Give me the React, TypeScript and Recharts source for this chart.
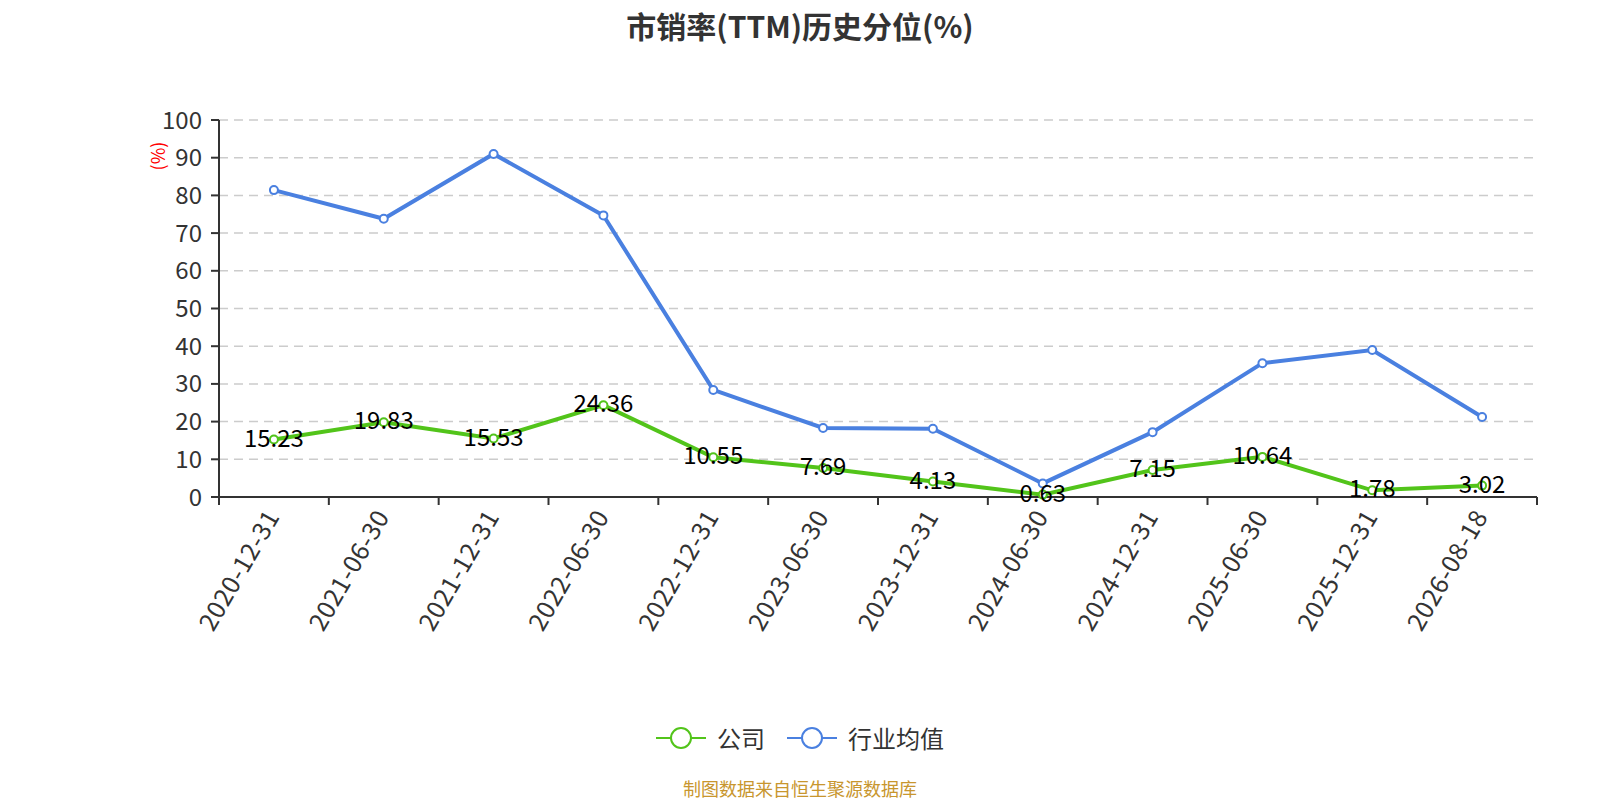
import { LineChart, Line, XAxis, YAxis, CartesianGrid, LabelList } from "recharts";

const dates = [
    "2020-12-31",
    "2021-06-30",
    "2021-12-31",
    "2022-06-30",
    "2022-12-31",
    "2023-06-30",
    "2023-12-31",
    "2024-06-30",
    "2024-12-31",
    "2025-06-30",
    "2025-12-31",
    "2026-08-18",
];
const company = [15.23, 19.83, 15.53, 24.36, 10.55, 7.69, 4.13, 0.63, 7.15, 10.64, 1.78, 3.02];
const industry = [81.4, 73.8, 91.0, 74.7, 28.4, 18.3, 18.1, 3.6, 17.2, 35.5, 39.0, 21.2];
const yTicks = [0, 10, 20, 30, 40, 50, 60, 70, 80, 90, 100];

const data = dates.map((d, i) => ({ date: d, company: company[i], industry: industry[i] }));

const FONT = "'Microsoft YaHei', 'Noto Sans CJK SC', 'Open Sans', sans-serif";
const GREEN = "#52c41a";
const BLUE = "#4a80e0";
const BAND = (1537 - 219) / dates.length;

const XTick = (props: any) => {
    const { x, y, payload, index } = props;
    return (
        <g>
            <line x1={x - BAND / 2} y1={y} x2={x - BAND / 2} y2={y + 8} stroke="#333" strokeWidth={2} />
            {index === dates.length - 1 && (
                <line x1={x + BAND / 2} y1={y} x2={x + BAND / 2} y2={y + 8} stroke="#333" strokeWidth={2} />
            )}
            <text
                transform={`translate(${x - 1},${y + 15}) rotate(-60)`}
                textAnchor="end"
                dy="0.35em"
                fontSize={25}
                letterSpacing={0.6}
                fill="#333"
                fontFamily={FONT}
            >
                {payload.value}
            </text>
        </g>
    );
};

const ValueLabel = (props: any) => {
    const { x, y, value } = props;
    return (
        <text x={x} y={y} dy="0.3em" textAnchor="middle" fontSize={24} fill="#000" fontFamily={FONT}>
            {value}
        </text>
    );
};

const LegendIcon = ({ color }: { color: string }) => (
    <svg width={50} height={24}>
        <line x1={0} y1={12} x2={50} y2={12} stroke={color} strokeWidth={2} />
        <circle cx={25} cy={12} r={10} fill="#fff" stroke={color} strokeWidth={2} />
    </svg>
);

export default function App() {
    return (
        <div style={{ position: "absolute", left: 0, top: 0, width: 1600, height: 800, fontFamily: FONT, background: "#fff" }}>
            <div
                style={{
                    position: "absolute",
                    top: 7,
                    left: 0,
                    width: 1600,
                    textAlign: "center",
                    fontSize: 30,
                    fontWeight: "bold",
                    color: "#333",
                    lineHeight: "36px",
                }}
            >
                市销率(TTM)历史分位(%)
            </div>
            <div
                style={{
                    position: "absolute",
                    left: 157 - 40,
                    top: 156 - 12,
                    width: 80,
                    height: 24,
                    lineHeight: "24px",
                    textAlign: "center",
                    transform: "rotate(-90deg)",
                    color: "red",
                    fontSize: 18,
                }}
            >
                (%)
            </div>
            <LineChart width={1600} height={800} data={data} margin={{ top: 120, right: 63, left: 0, bottom: 0 }}>
                <CartesianGrid vertical={false} stroke="#ccc" strokeDasharray="9 6" strokeWidth={1.5} />
                <XAxis
                    dataKey="date"
                    height={303}
                    interval={0}
                    padding={{ left: BAND / 2, right: BAND / 2 }}
                    tickLine={false}
                    tickSize={0}
                    tickMargin={0}
                    tick={<XTick />}
                    axisLine={{ stroke: "#333", strokeWidth: 2 }}
                />
                <YAxis
                    width={219}
                    domain={[0, 100]}
                    ticks={yTicks}
                    interval={0}
                    tickSize={8}
                    tickMargin={9}
                    tick={{ fontSize: 24, fill: "#333", fontFamily: FONT }}
                    tickLine={{ stroke: "#333", strokeWidth: 2 }}
                    axisLine={{ stroke: "#333", strokeWidth: 2 }}
                />
                <Line
                    dataKey="industry"
                    stroke={BLUE}
                    strokeWidth={4}
                    dot={{ r: 4, fill: "#fff", stroke: BLUE, strokeWidth: 2 }}
                    isAnimationActive={false}
                />
                <Line
                    dataKey="company"
                    stroke={GREEN}
                    strokeWidth={4}
                    dot={{ r: 4, fill: "#fff", stroke: GREEN, strokeWidth: 2 }}
                    isAnimationActive={false}
                >
                    <LabelList dataKey="company" content={<ValueLabel />} />
                </Line>
            </LineChart>
            <div
                style={{
                    position: "absolute",
                    top: 738 - 14,
                    left: 0,
                    width: 1600,
                    display: "flex",
                    justifyContent: "center",
                    alignItems: "center",
                    fontSize: 24,
                    color: "#333",
                    lineHeight: "28px",
                }}
            >
                <LegendIcon color={GREEN} />
                <span style={{ marginLeft: 11, marginRight: 22 }}>公司</span>
                <LegendIcon color={BLUE} />
                <span style={{ marginLeft: 11 }}>行业均值</span>
            </div>
            <div
                style={{
                    position: "absolute",
                    top: 788 - 11,
                    left: 0,
                    width: 1600,
                    textAlign: "center",
                    fontSize: 18,
                    color: "#c8962e",
                    lineHeight: "22px",
                }}
            >
                制图数据来自恒生聚源数据库
            </div>
        </div>
    );
}
